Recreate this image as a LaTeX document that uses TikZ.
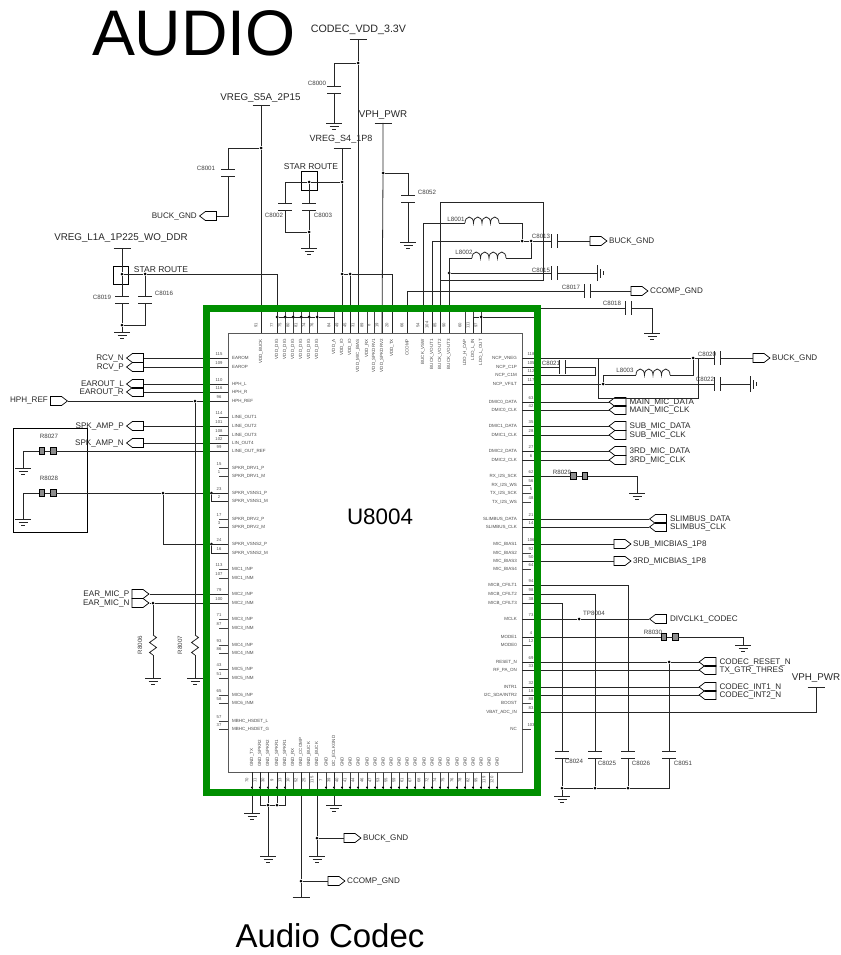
\documentclass[tikz,border=0pt]{standalone}
\usepackage{fontspec}
\setmainfont{Liberation Sans}
\usetikzlibrary{positioning}
\usetikzlibrary{calc}
\usetikzlibrary{shapes.symbols}
\definecolor{framegreen}{HTML}{008F00}
\tikzset{
	wire/.style={line width=.8pt,black!85},
	tick/.style={line width=.7pt,black!75},
	pinname/.style={inner sep=0pt,text=black!70,font=\fontsize{4.5}{5}\selectfont},
	pinnum/.style={inner sep=0pt,text=black!70,font=\fontsize{4.2}{5}\selectfont},
	netlabel/.style={inner sep=0pt,text=black!85,font=\fontsize{8.1}{9}\selectfont},
	railname/.style={inner sep=0pt,text=black!85,font=\fontsize{9.8}{11}\selectfont},
	capname/.style={inner sep=0pt,text=black!75,font=\fontsize{6.2}{7}\selectfont},
	dotj/.style={circle,fill=black,inner sep=0pt,minimum size=3pt},
	starbox/.style={draw,line width=.7pt,minimum width=15.5pt,minimum height=18.5pt,inner sep=0pt},
	portbase/.style={signal,draw,line width=.7pt,signal from=nowhere,inner sep=0pt,minimum width=17pt,minimum height=9pt,signal pointer angle=75},
	portl/.style={portbase,signal to=west},
	portr/.style={portbase,signal to=east},
	gndsym/.pic={\coordinate (-t) at (0,0);
		\draw[wire] (-8,0) -- (8,0) (-4.5,3.3) -- (4.5,3.3) (-1.7,6.6) -- (1.7,6.6);},
	barsym/.pic={\coordinate (-t) at (0,0);
		\draw[wire] (-8.5,0) -- (8.5,0);},
	capv/.pic={\coordinate (-a) at (0,-3.5); \coordinate (-b) at (0,3.5);
		\draw[wire] (-7,-3.5) -- (7,-3.5) (-7,3.5) -- (7,3.5);},
	caph/.pic={\coordinate (-a) at (-3,0); \coordinate (-b) at (3,0);
		\draw[wire] (-3,-7) -- (-3,7) (3,-7) -- (3,7);},
	coilsym/.pic={\coordinate (-a) at (0,0); \coordinate (-b) at (34,0);
		\draw[wire] (0,0) arc (180:360:4.25 and 6) arc (180:360:4.25 and 6) arc (180:360:4.25 and 6) arc (180:360:4.25 and 6);},
	fusesym/.pic={\coordinate (-a) at (-8.5,0); \coordinate (-b) at (8.5,0);
		\draw[line width=.6pt,fill=black!45] (-8.5,-3.5) rectangle (-3,3.5) (3,-3.5) rectangle (8.5,3.5);
		\draw[wire] (-3,0) -- (3,0);},
	zigsym/.pic={\coordinate (-a) at (0,-10); \coordinate (-b) at (0,10);
		\draw[wire] (0,-10) -- (3.5,-7.5) -- (-3.5,-2.5) -- (3.5,2.5) -- (-3.5,7.5) -- (0,10);},
}
\begin{document}
\begin{tikzpicture}[x=1pt,y=-1pt]
	\useasboundingbox (0,0) rectangle (840,955);
	% Titles
	\node[inner sep=0pt,font=\fontsize{64.4}{70}\selectfont] (title) at (194,33) {AUDIO};
	\node[inner sep=0pt,font=\fontsize{33}{36}\selectfont] (subtitle) at (330,936) {Audio Codec};
	\node[inner sep=0pt,font=\fontsize{22.4}{24}\selectfont] (ref) at (380,517) {U8004};
	% IC outline
	\node[draw,line width=.8pt,black!65,minimum width=294pt,minimum height=439pt,inner sep=0pt] (icbox) at (375,552.5) {};
	% Left pins
	\foreach \y/\pname/\pnum in {358/EAROM/115,367/EAROP/109,384/HPH\_L/110,392/HPH\_R/116,401/HPH\_REF/96,
		417/LINE\_OUT1/114,426/LINE\_OUT2/101,435/LINE\_OUT3/108,443/LIN\_OUT4/102,451/LINE\_OUT\_REF/99,
		468/SPKR\_DRV1\_P/15,476/SPKR\_DRV1\_M/1,493/SPKR\_VSNS1\_P/23,501/SPKR\_VSNS1\_M/2,
		519/SPKR\_DRV2\_P/17,527/SPKR\_DRV2\_M/3,544/SPKR\_VSNS2\_P/24,553/SPKR\_VSNS2\_M/16,
		569/MIC1\_INP/113,578/MIC1\_INM/107,594/MIC2\_INP/79,603/MIC2\_INM/100,619/MIC3\_INP/71,628/MIC3\_INM/87,
		645/MIC4\_INP/93,653/MIC4\_INM/86,669/MIC5\_INP/43,678/MIC5\_INM/51,695/MIC6\_INP/65,703/MIC6\_INM/58,
		721/MBHC\_HSDET\_L/57,729/MBHC\_HSDET\_G/37}{
		\coordinate (L\pnum) at (228,\y);
		\draw[tick] (L\pnum) -- ++(-9,0);
		\node[pinname,anchor=west] (Ln\pnum) at (232,\y) {\pname};
		\node[pinnum] (Lm\pnum) at (219,\y-4) {\pnum};
	}
	% Right pins
	\foreach \y/\pname/\pnum in {358/NCP\_VNEG/118,367/NCP\_C1P/105,375/NCP\_C1M/112,384/NCP\_VFILT/117,
		402/DMIC0\_DATA/63,410/DMIC0\_CLK/42,426/DMIC1\_DATA/35,435/DMIC1\_CLK/28,451/DMIC2\_DATA/27,460/DMIC2\_CLK/6,
		476/RX\_I2S\_SCK/62,485/RX\_I2S\_WS/56,493/TX\_I2S\_SCK/5,502/TX\_I2S\_WS/48,519/SLIMBUS\_DATA/21,527/SLIMBUS\_CLK/14,
		544/MIC\_BIAS1/106,553/MIC\_BIAS2/92,561/MIC\_BIAS3/50,569/MIC\_BIAS4/64,
		585/MICB\_CFILT1/94,594/MICB\_CFILT2/98,603/MICB\_CFILT3/38,619/MCLK/73,637/MODE1/4,645/MODE0/12,
		662/RESET\_N/69,670/RF\_PA\_ON/33,687/INTR1/32,{695}/{I2C\_SDA/INTR2}/18,703/BOOST/88,712/VBAT\_ADC\_IN/83,729/NC/103}{
		\coordinate (R\pnum) at (522,\y);
		\draw[tick] (R\pnum) -- ++(9,0);
		\node[pinname,anchor=east] (Rn\pnum) at (517,\y) {\pname};
		\node[pinnum] (Rm\pnum) at (531,\y-4) {\pnum};
	}
	% Top pins
	\foreach \x/\pname/\pnum in {261/VDD\_BUCK/91,277/VDD\_DIG/77,285/VDD\_DIG/75,293/VDD\_DIG/80,301/VDD\_DIG/81,309/VDD\_DIG/74,317/VDD\_DIG/76,
		334/VDD\_A/84,342/VDD\_IO/49,350/VDD\_IO/45,358/VDD\_MIC\_BIAS/31,367/VDD\_RX/89,374/VDD\_SPKDRV1/8,382/VDD\_SPKDRV2/19,392/VDD\_TX/20,
		407/CCOMP/66,423/BUCK\_VSW/54,432/BUCK\_VOUT1/104,440/BUCK\_VOUT2/85,449/BUCK\_VOUT3/90,465/LDO\_H\_CAP/60,473/LDO\_L\_IN/111,481/LDO\_L\_OUT/97}{
		\coordinate (T\pnum) at (\x,333);
		\draw[tick] (T\pnum) -- (\x,312);
		\node[pinname,rotate=90,anchor=east] (Tn\pnum) at (\x,339) {\pname};
		\node[pinnum,rotate=90] (Tm\pnum) at (\x-5,325) {\pnum};
	}
	% Bottom pins
	\foreach \x/\pname/\pnum in {252/GND\_TX/70,260/GND\_SPKR2/11,268/GND\_SPKR2/30,277/GND\_SPKR1/9,285/GND\_SPKR1/13,293/GND\_RX/10,
		301/GND\_CCOMP/52,309/GND\_BUCK/25,317/GND\_BUCK/115,326/GND/7,334/I2C\_ECLKGND/39,342/GND/40,350/GND/41,358/GND/44,367/GND/46,
		375/GND/47,383/GND/53,391/GND/55,399/GND/59,407/GND/61,415/GND/67,424/GND/68,432/GND/72,440/GND/74,448/GND/75,457/GND/76,
		465/GND/78,473/GND/82,481/GND/95,489/GND/119,497/GND/120}{
		\coordinate (B\pnum) at (\x,772);
		\draw[tick] (B\pnum) -- (\x,789);
		\node[pinname,rotate=90,anchor=west] (Bn\pnum) at (\x,767) {\pname};
		\node[pinnum,rotate=90] (Bm\pnum) at (\x-5,780) {\pnum};
	}
	\foreach \x in {252,260,268,277,285,326,334,342,350,358,367,375,383,391,399,407,415,424,432,440,448,457,465,473,481,489,497}
		\node[dotj,minimum size=2.4pt] (bd\x) at (\x,787.5) {};
	% Parts
	\foreach \nm/\x/\y in {c8000/334/89.5,c8001/228/173,c8002/285/206.5,c8003/309/206.5,c8019/122/299.5,c8016/145/299.5,c8052/408/198.5,
		c8024/562/755,c8025/595/755,c8026/628/755,c8051/669/755}
		\pic (\nm) at (\x,\y) {capv};
	\foreach \nm/\x/\y in {c8013/554.5/241,c8015/554.5/273,c8017/587/291,c8018/628/308,c8021/562/367,c8020/717.5/358,c8022/717.5/384}
		\pic (\nm) at (\x,\y) {caph};
	\foreach \nm/\x/\y in {g8000/334/123,g8003/309/248,g8019/122/332,g8052/408/242,g8018/652/333,g8027/23/468,g8028/23/519,
		g8006/153/678,g8007/195/678,g8029/637/493,g8030/743/645,gcap/562/796,gtx/252/813,gspk/268/856,gbuck/317/856,gi2c/334/805}
		\pic (\nm) at (\x,\y) {gndsym};
	\pic[rotate=90] (g8015) at (597,273) {gndsym};
	\pic[rotate=90] (g8022) at (750,384) {gndsym};
	\foreach \nm/\x/\y in {bcodec/358/39,bs5a/261/105,bs4/342/148,bvph/383/123,bl1a/122/248,bvph2/816/687,bccomp/301/897}
		\pic (\nm) at (\x,\y) {barsym};
	\pic (l8001) at (465,223) {coilsym};
	\pic (l8002) at (472,258) {coilsym};
	\pic (l8003) at (636,375) {coilsym};
	\foreach \nm/\x/\y in {r8027/47.5/451,r8028/47.5/493,r8029/579/476,r8030/669.5/637}
		\pic (\nm) at (\x,\y) {fusesym};
	\pic (r8006) at (153,645) {zigsym};
	\pic (r8007) at (195,645) {zigsym};
	\node[starbox] (star1) at (121,275.5) {};
	\node[starbox] (star2) at (309.5,181) {};
	\node[draw,line width=.8pt,minimum width=74pt,minimum height=104pt,inner sep=0pt] (sensebox) at (50,480) {};
	% Ports, text to the left
	\foreach \nm/\x/\y/\txt in {buck0/211/216/BUCK\_GND,rcvn/138/358/RCV\_N,rcvp/138/367/RCV\_P,eoutl/138/384/EAROUT\_L,eoutr/138/392/EAROUT\_R,
		spkp/138/426/SPK\_AMP\_P,spkn/138/443/SPK\_AMP\_N}{
		\node[portl] (\nm) at (\x,\y) {};
		\node[netlabel,left=2pt of \nm.west] (\nm-t) {\txt};
	}
	\foreach \nm/\x/\y/\txt in {hphref/56/401/HPH\_REF,earp/137.5/594/EAR\_MIC\_P,earn/137.5/603/EAR\_MIC\_N}{
		\node[portr] (\nm) at (\x,\y) {};
		\node[netlabel,left=2pt of \nm.west] (\nm-t) {\txt};
	}
	% Ports, text to the right
	\foreach \nm/\x/\y/\txt in {mdata/620.5/402/MAIN\_MIC\_DATA,mclk/620.5/410/MAIN\_MIC\_CLK,sdata/620.5/426/SUB\_MIC\_DATA,sclk/620.5/435/SUB\_MIC\_CLK,
		tdata/620.5/451/3RD\_MIC\_DATA,tclk/620.5/460/3RD\_MIC\_CLK,sldata/661/519/SLIMBUS\_DATA,slclk/661/527/SLIMBUS\_CLK,
		divclk/661/619/DIVCLK1\_CODEC,creset/710.5/662/CODEC\_RESET\_N,txgtr/710.5/670/TX\_GTR\_THRES,cint1/710.5/687/CODEC\_INT1\_N,cint2/710.5/695/CODEC\_INT2\_N}{
		\node[portl] (\nm) at (\x,\y) {};
		\node[netlabel,right=3pt of \nm.east] (\nm-t) {\txt};
	}
	\foreach \nm/\x/\y/\txt in {buck1/595.5/241/BUCK\_GND,ccomp1/636.5/291/CCOMP\_GND,buck2/758.5/358/BUCK\_GND,sbias/619.5/544/SUB\_MICBIAS\_1P8,
		tbias/619.5/561/3RD\_MICBIAS\_1P8,buck3/349.5/838/BUCK\_GND,ccomp2/333.5/881/CCOMP\_GND}{
		\node[portr] (\nm) at (\x,\y) {};
		\node[netlabel,right=1.5pt of \nm.east] (\nm-t) {\txt};
	}
	% Rail names
	\node[railname,font=\fontsize{10.7}{12}\selectfont] (ncodec) at (358.5,30) {CODEC\_VDD\_3.3V};
	\node[railname] (ns5a) at (260.5,98) {VREG\_S5A\_2P15};
	\node[railname,font=\fontsize{9}{10}\selectfont] (ns4) at (341,139) {VREG\_S4\_1P8};
	\node[railname] (nvph) at (383,115) {VPH\_PWR};
	\node[railname] (nl1a) at (121,238) {VREG\_L1A\_1P225\_WO\_DDR};
	\node[railname] (nvph2) at (816,678) {VPH\_PWR};
	\node[netlabel,font=\fontsize{8.5}{9}\selectfont] (nstar1) at (161,270) {STAR ROUTE};
	\node[netlabel,font=\fontsize{8.5}{9}\selectfont] (nstar2) at (311,167) {STAR ROUTE};
	% Part names
	\foreach \nm/\x/\y in {C8000/317/83,C8001/206/168,C8002/274/215,C8003/323/215,C8019/102/297,C8016/164/293,C8052/427/192,
		C8013/541/236,C8015/541/270,C8017/571/287,C8018/612/303,C8021/551/363,C8020/707/354,C8022/705/379,
		C8024/574/761,C8025/607/763,C8026/641/763,C8051/683/763,L8001/456/219,L8002/464/252,L8003/625/370,
		R8027/49/436,R8028/49/478,R8029/562/472,R8030/653/632,TP8004/594/613}
		\node[capname] (n\nm) at (\x,\y) {\nm};
	\node[capname,rotate=90] (nR8006) at (140,645) {R8006};
	\node[capname,rotate=90] (nR8007) at (180,645) {R8007};
	% Junctions
	\node[dotj] (js5a) at (261,148) {};
	\node[dotj] (jcodec) at (358,63) {};
	\node[dotj] (js4a) at (342,182) {};
	\node[dotj] (js4b) at (342,274) {};
	\node[dotj] (js4c) at (350,274) {};
	\node[dotj] (jstar2) at (309,182) {};
	\node[dotj] (jc8003) at (309,232) {};
	\node[dotj] (jvph) at (383,173) {};
	\node[dotj] (jl1a) at (122,274) {};
	\node[dotj] (jc8016) at (145,274) {};
	\node[dotj] (jc8019) at (122,325) {};
	\foreach \x in {277,285,293,301,309,317}
		\node[dotj] (jdig\x) at (\x,317) {};
	\node[dotj] (jldo) at (481,317) {};
	\node[dotj] (jbucka) at (522,241) {};
	\node[dotj] (jbuckb) at (531,241) {};
	\node[dotj] (jvout3) at (449,273) {};
	\node[dotj] (jncpa) at (693,358) {};
	\node[dotj] (jncpb) at (603,384) {};
	\node[dotj] (jhph) at (195,401) {};
	\node[dotj] (jsns1) at (163,493) {};
	\node[dotj] (jsns2) at (211.5,493) {};
	\node[dotj] (jsns3) at (211.5,544) {};
	\node[dotj] (jearn) at (153,603) {};
	\node[dotj] (jtp) at (579,619) {};
	\node[dotj] (jreset) at (669,662) {};
	\node[dotj] (jcapa) at (562,788) {};
	\node[dotj] (jcapb) at (595,788) {};
	\node[dotj] (jcapc) at (628,788) {};
	\node[dotj] (jspka) at (268,805) {};
	\node[dotj] (jspkb) at (277,805) {};
	\node[dotj] (jbuck) at (317,838) {};
	\node[dotj] (jccomp) at (301,881) {};
	% Wires above the IC
	\draw[wire] (bs5a-t) -- (js5a) -- (T91);
	\draw[wire] (js5a) -| (c8001-a);
	\draw[wire] (c8001-b) |- (buck0.east);
	\draw[wire] (bcodec-t) -- (jcodec) -- (T31);
	\draw[wire] (jcodec) -| (c8000-a);
	\draw[wire] (c8000-b) -- (g8000-t);
	\draw[wire] (bs4-t) -- (js4a) -- (js4b) -- (T49);
	\draw[wire] (js4b) -- (js4c) -- (392,274) -- (T20);
	\draw[wire] (js4c) -- (T45);
	\draw[wire] (js4a) -- (jstar2) -- (285,182) -- (c8002-a);
	\draw[wire] (jstar2) -- (c8003-a);
	\draw[wire] (c8003-b) -- (jc8003) -- (g8003-t);
	\draw[wire] (c8002-b) |- (jc8003);
	\draw[wire] (bvph-t) -- (jvph) -- (T19);
	\draw[wire] (jvph) -| (c8052-a);
	\draw[wire] (c8052-b) -- (g8052-t);
	\draw[wire] (bl1a-t) -- (jl1a) -- (c8019-a);
	\draw[wire] (c8019-b) -- (jc8019) -- (g8019-t);
	\draw[wire] (jl1a) -- (jc8016) -- (277,274) -- (T77);
	\draw[wire] (jc8016) -- (c8016-a);
	\draw[wire] (c8016-b) |- (jc8019);
	\draw[wire] (jdig277) -- (jdig317) -- (334,317) -- (T84);
	% Wires to the buck inductors
	\draw[wire] (T54) |- (l8001-a);
	\draw[wire] (l8001-b) -| (jbucka);
	\draw[wire] (T90) |- (l8002-a);
	\draw[wire] (l8002-b) -| (jbuckb);
	\draw[wire] (T104) |- (jbucka) -- (jbuckb) -- (c8013-a);
	\draw[wire] (c8013-b) -- (buck1.west);
	\draw[wire] (T85) -- (440,202) -- (543,202) -- (543,280) -- (440,280);
	\draw[wire] (jvout3) -- (c8015-a);
	\draw[wire] (c8015-b) -- (g8015-t);
	\draw[wire] (T66) |- (c8017-a);
	\draw[wire] (c8017-b) -- (ccomp1.west);
	\draw[wire] (T111) |- (jldo) -- (535,317) -- (535,308) -- (c8018-a);
	\draw[wire] (jldo) -- (T97);
	\draw[wire] (c8018-b) -| (g8018-t);
	% Wires on the left
	\draw[wire] (rcvn.east) -- (L115);
	\draw[wire] (rcvp.east) -- (L109);
	\draw[wire] (eoutl.east) -- (L110);
	\draw[wire] (eoutr.east) -- (L116);
	\draw[wire] (hphref.east) -- (jhph) -- (L96);
	\draw[wire] (jhph) -- (r8007-a);
	\draw[wire] (r8007-b) -- (g8007-t);
	\draw[wire] (spkp.east) -- (L101);
	\draw[wire] (spkn.east) -- (L102);
	\draw[wire] (r8027-b) -- (L99);
	\draw[wire] (g8027-t) |- (r8027-a);
	\draw[wire] (r8028-b) -- (jsns1) -- (L23);
	\draw[wire] (g8028-t) |- (r8028-a);
	\draw[wire] (jsns1) |- (L24);
	\draw[wire] (jsns2) |- (L2);
	\draw[wire] (jsns3) |- (L16);
	\draw[wire] (earp.east) -- (L79);
	\draw[wire] (earn.east) -- (jearn) -- (L100);
	\draw[wire] (jearn) -- (r8006-a);
	\draw[wire] (r8006-b) -- (g8006-t);
	% Wires on the right
	\draw[wire] (R118) -- (jncpa) -- (c8020-a);
	\draw[wire] (c8020-b) -- (buck2.west);
	\draw[wire] (R105) -- (c8021-a);
	\draw[wire] (c8021-b) -- (595,367) -- (595,375) -- (R112);
	\draw[wire] (R117) -- (jncpb) -- (c8022-a);
	\draw[wire] (c8022-b) -- (g8022-t);
	\draw[wire] (jncpb) |- (l8003-a);
	\draw[wire] (l8003-b) -| (jncpa);
	\draw[wire] (598,358) -- (598,398) -- (698,398) -- (698,358);
	\draw[wire] (R63) -- (mdata.west);
	\draw[wire] (R42) -- (mclk.west);
	\draw[wire] (R35) -- (sdata.west);
	\draw[wire] (R28) -- (sclk.west);
	\draw[wire] (R27) -- (tdata.west);
	\draw[wire] (R6) -- (tclk.west);
	\draw[wire] (R62) -- (r8029-a);
	\draw[wire] (r8029-b) -| (g8029-t);
	\draw[wire] (R21) -- (sldata.west);
	\draw[wire] (R14) -- (slclk.west);
	\draw[wire] (R106) -- (sbias.west);
	\draw[wire] (R50) -- (tbias.west);
	\draw[wire] (R94) -| (c8026-a);
	\draw[wire] (R98) -| (c8025-a);
	\draw[wire] (R38) -| (c8024-a);
	\draw[wire] (R73) -- (jtp) -- (divclk.west);
	\draw[wire] (R4) -- (r8030-a);
	\draw[wire] (r8030-b) -| (g8030-t);
	\draw[wire] (R69) -- (jreset) -- (creset.west);
	\draw[wire] (R33) -- (txgtr.west);
	\draw[wire] (R32) -- (cint1.west);
	\draw[wire] (R18) -- (cint2.west);
	\draw[wire] (R83) -| (bvph2-t);
	\draw[wire] (jreset) -- (c8051-a);
	\draw[wire] (c8024-b) -- (jcapa) -- (gcap-t);
	\draw[wire] (c8025-b) -- (jcapb);
	\draw[wire] (c8026-b) -- (jcapc);
	\draw[wire] (jcapa) -- (jcapb) -- (jcapc) -- (669,788) -- (c8051-b);
	% Wires below the IC
	\draw[wire] (B70) -- (gtx-t);
	\draw[wire] (B11) -- (260,805) -- (jspka) -- (jspkb) -- (285,805) -- (B13);
	\draw[wire] (B30) -- (jspka) -- (gspk-t);
	\draw[wire] (B9) -- (jspkb);
	\draw[wire] (B52) -- (jccomp) -- (bccomp-t);
	\draw[wire] (jccomp) -- (ccomp2.west);
	\draw[wire] (B115) -- (jbuck) -- (gbuck-t);
	\draw[wire] (jbuck) -- (buck3.west);
	\draw[wire] (B39) -- (gi2c-t);
	% Green frame goes over the wires
	\node[draw=framegreen,line width=7pt,minimum width=331pt,minimum height=484pt,inner sep=0pt] (frame) at (372,550.5) {};
\end{tikzpicture}
\end{document}
